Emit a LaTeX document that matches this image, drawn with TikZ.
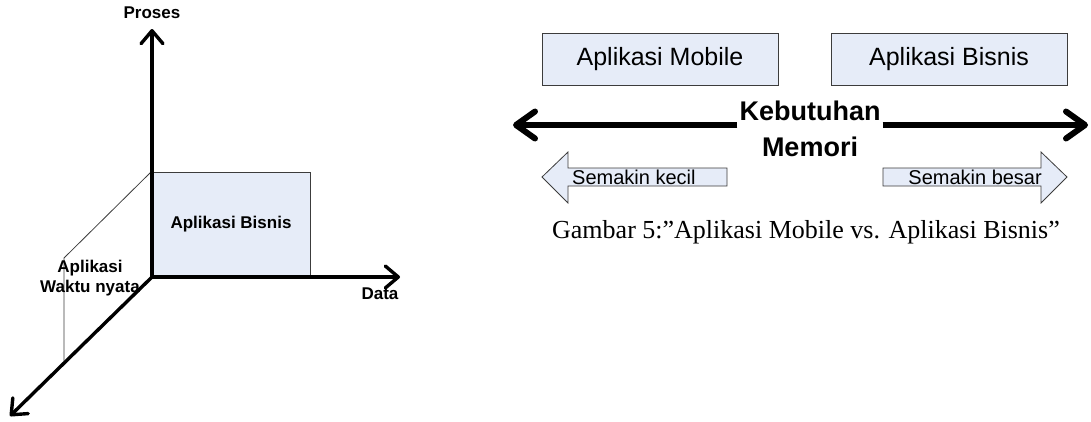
\documentclass[tikz,border=0pt]{standalone}
\usepackage{fontspec}
\setmainfont{Liberation Sans}
\newfontfamily\capfont{Liberation Serif}
\usetikzlibrary{arrows.meta}
\definecolor{boxfill}{RGB}{230,236,248}
\definecolor{edgegray}{RGB}{60,60,60}
\tikzset{
 axis/.style={line width=3.4pt, -{Straight Barb[length=13pt,width=22pt,round]}},
 bigaxis/.style={line width=6pt, -{Straight Barb[length=19pt,width=27pt,round]}},
 guide/.style={draw=edgegray, line width=0.8pt},
 appbox/.style={draw=edgegray, line width=1pt, fill=boxfill, inner sep=0pt, font=\fontsize{25pt}{30pt}\selectfont},
 lbl/.style={inner sep=0pt, font=\bfseries\fontsize{17pt}{20pt}\selectfont},
 blockarrow/.style={draw=edgegray, line width=0.8pt, fill=boxfill, line join=miter},
 smalltxt/.style={inner sep=0pt, font=\fontsize{20pt}{24pt}\selectfont},
}
\begin{document}
\begin{tikzpicture}[x=1pt,y=-1pt]
\useasboundingbox (0,0) rectangle (1091,421);
% ---- left diagram
\coordinate (O) at (152,277);
\coordinate (Ptop) at (152,29);
\coordinate (Dend) at (400,277);
\coordinate (Zend) at (10,416);
\coordinate (bend) at (64,258);
\coordinate (foot) at (64,362);
\node[appbox, font=\bfseries\fontsize{17pt}{20pt}\selectfont, minimum width=158pt, minimum height=105pt] (ab) at (231,224.5) {Aplikasi Bisnis};
\draw[guide] (ab.north west) -- (bend) -- (foot);
\draw[axis] (O) -- (Ptop);
\draw[axis] (O) -- (Dend);
\draw[axis] (O) -- (Zend);
\node[lbl] (proses) at (152,13) {Proses};
\node[lbl] (data) at (380,294) {Data};
\node[lbl, align=center] (rt) at (90,278) {Aplikasi\\Waktu nyata};
% ---- right diagram
\node[appbox, minimum width=236pt, minimum height=52pt] (mob) at (660,59) {Aplikasi Mobile};
\node[appbox, minimum width=236pt, minimum height=52pt] (bis) at (949,59) {Aplikasi Bisnis};
\node[font=\bfseries\fontsize{27pt}{36pt}\selectfont, align=center, inner xsep=2pt, inner ysep=0pt] (kb) at (810,129) {Kebutuhan\\Memori};
\coordinate (ML) at (513,125);
\coordinate (MR) at (1088,125);
\draw[bigaxis] (kb.west |- ML) -- (ML);
\draw[bigaxis] (kb.east |- MR) -- (MR);
% block arrows
\draw[blockarrow] (542,177) -- (568,152) -- (568,168) -- (727,168) -- (727,186) -- (568,186) -- (568,203) -- cycle;
\draw[blockarrow] (1067,177) -- (1041,152) -- (1041,168) -- (883,168) -- (883,186) -- (1041,186) -- (1041,203) -- cycle;
\node[smalltxt, anchor=base west] (kecil) at (572,184) {Semakin kecil};
\node[smalltxt, anchor=base east] (besar) at (1042,184) {Semakin besar};
\node[font=\capfont\fontsize{26pt}{30pt}\selectfont, inner sep=0pt] (cap) at (806,232) {Gambar 5:”Aplikasi Mobile vs. Aplikasi Bisnis”};
\end{tikzpicture}
\end{document}
